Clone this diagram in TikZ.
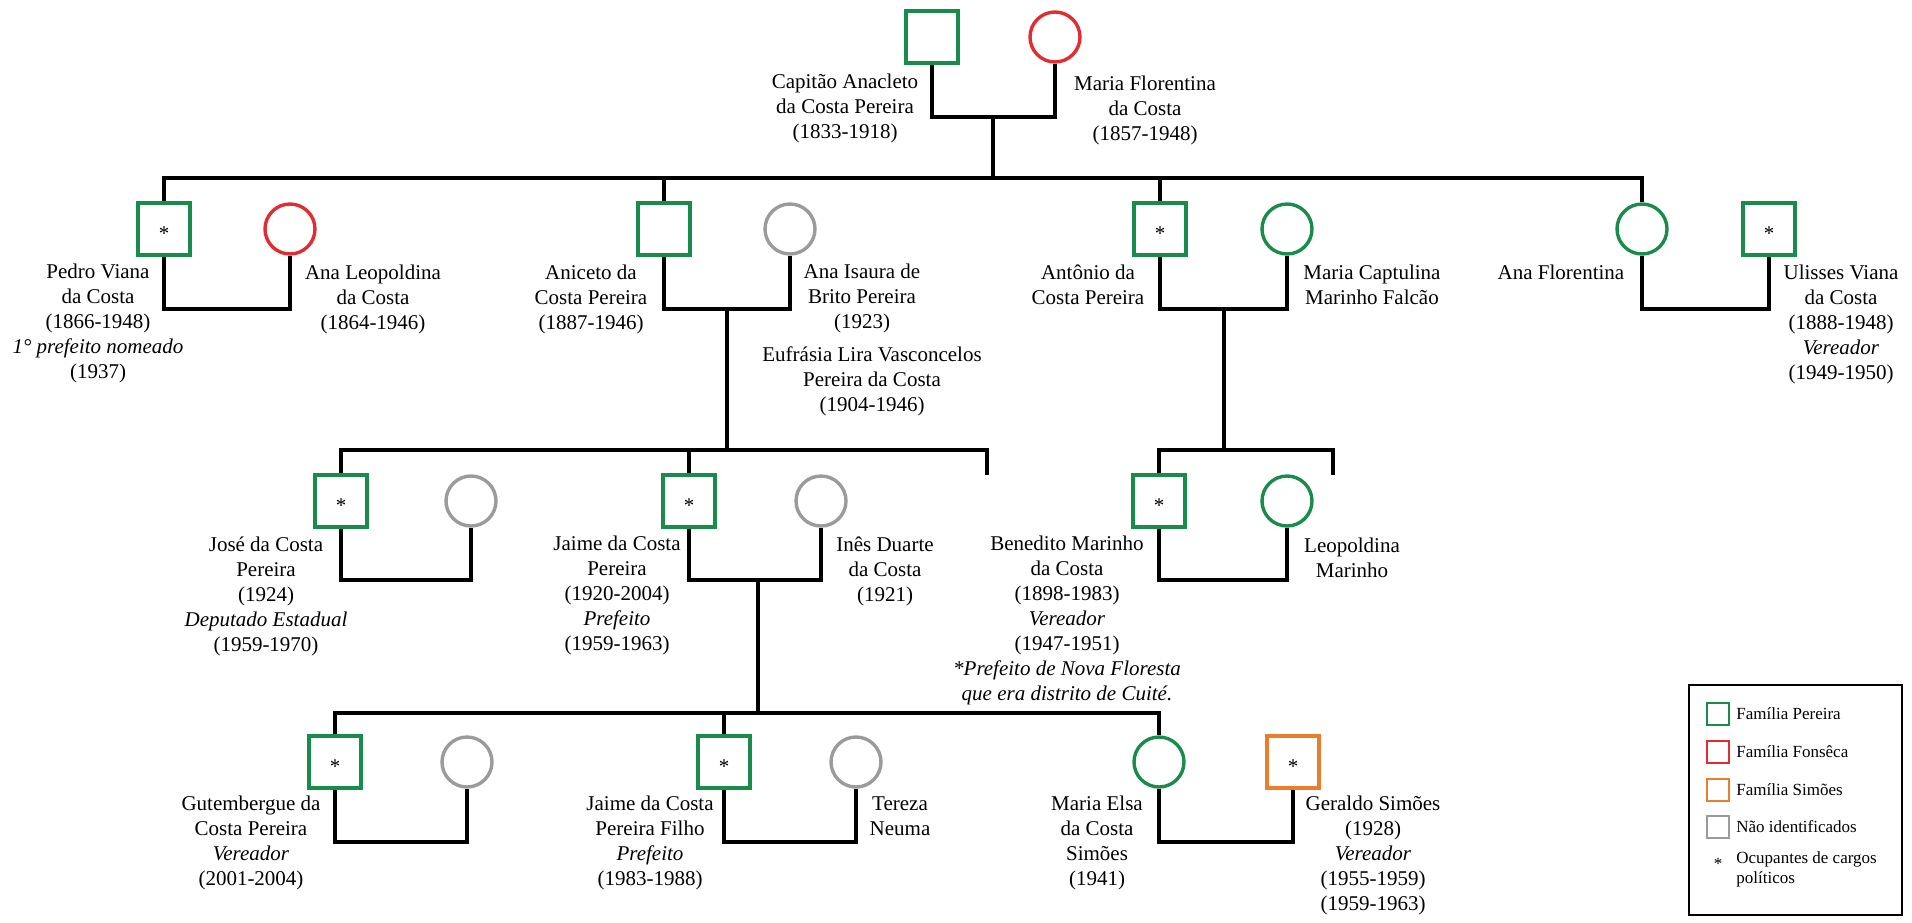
\documentclass[tikz,border=0pt]{standalone}
\usepackage{fontspec}
\setmainfont{Liberation Serif}
\definecolor{pgreen}{RGB}{25,140,75}
\definecolor{pred}{RGB}{225,45,50}
\definecolor{porange}{RGB}{235,125,45}
\definecolor{pgrey}{RGB}{155,155,155}
\newcommand\lblfont{\fontsize{10.5pt}{12.5pt}\selectfont}
\newcommand\legfont{\fontsize{8.5pt}{10pt}\selectfont}
\begin{document}
\begin{tikzpicture}[x=0.5pt,y=-0.5pt,
  sq/.style={draw=#1,line width=1.9pt,fill=white,minimum size=26pt,inner sep=0pt,rectangle},
  ci/.style={draw=#1,line width=1.7pt,fill=white,minimum size=25pt,inner sep=0pt,circle},
  pol/.style={label={[font=\lblfont,inner sep=0pt,yshift=-2.5pt]center:*}},
  lbl/.style={align=center,anchor=north,inner sep=0pt,font=\lblfont},
  ln/.style={line width=1.6pt,black},
  lsq/.style={draw=#1,line width=1pt,fill=white,minimum size=11pt,inner sep=0pt,rectangle},
  ltxt/.style={anchor=west,inner sep=0pt,font=\legfont,align=left}
]
\fill[white] (0,0) rectangle (1912,922);
\useasboundingbox (0,0) rectangle (1912,922);

% ---------- generation 1
\node[sq=pgreen] (cap) at (932,37) {};
\node[ci=pred] (mf) at (1055,37) {};
% ---------- generation 2
\node[sq=pgreen,pol] (pedro) at (164,229) {};
\node[ci=pred] (analeop) at (290,229) {};
\node[sq=pgreen] (aniceto) at (664,229) {};
\node[ci=pgrey] (isaura) at (790,229) {};
\node[sq=pgreen,pol] (antonio) at (1160,229) {};
\node[ci=pgreen] (captulina) at (1287,229) {};
\node[ci=pgreen] (anaflor) at (1642,229) {};
\node[sq=pgreen,pol] (ulisses) at (1769,229) {};
% ---------- generation 3
\node[sq=pgreen,pol] (jose) at (341,501) {};
\node[ci=pgrey] (josew) at (471,501) {};
\node[sq=pgreen,pol] (jaime) at (689,501) {};
\node[ci=pgrey] (ines) at (821,501) {};
\node[sq=pgreen,pol] (benedito) at (1159,501) {};
\node[ci=pgreen] (leopoldina) at (1287,501) {};
% ---------- generation 4
\node[sq=pgreen,pol] (gut) at (335,762) {};
\node[ci=pgrey] (gutw) at (467,762) {};
\node[sq=pgreen,pol] (jf) at (724,762) {};
\node[ci=pgrey] (tereza) at (856,762) {};
\node[ci=pgreen] (elsa) at (1159,762) {};
\node[sq=porange,pol] (geraldo) at (1293,762) {};

% ---------- junction coordinates
\coordinate (j1) at (993,117);
\coordinate (b2) at (993,178);
\coordinate (j2p) at (227,309);
\coordinate (j2a) at (727,309);
\coordinate (j2c) at (1224,309);
\coordinate (j2u) at (1705,309);
\coordinate (b3a) at (727,450);
\coordinate (b3b) at (1224,450);
\coordinate (e3a) at (987,475);
\coordinate (e3b) at (1333,475);
\coordinate (j3j) at (406,580);
\coordinate (j3a) at (758,580);
\coordinate (j3b) at (1223,580);
\coordinate (b4) at (758,713);
\coordinate (j4g) at (401,842);
\coordinate (j4j) at (790,842);
\coordinate (j4e) at (1226,842);

% ---------- connectors
\draw[ln] (cap.south) |- (j1) -| (mf.south);
\draw[ln] (j1) -- (b2);
\draw[ln] (pedro.north) |- (b2) -| (anaflor.north);
\draw[ln] (aniceto.north) -- (aniceto.north |- b2);
\draw[ln] (antonio.north) -- (antonio.north |- b2);

\draw[ln] (pedro.south) |- (j2p) -| (analeop.south);
\draw[ln] (aniceto.south) |- (j2a) -| (isaura.south);
\draw[ln] (antonio.south) |- (j2c) -| (captulina.south);
\draw[ln] (anaflor.south) |- (j2u) -| (ulisses.south);
\draw[ln] (j2a) -- (b3a);
\draw[ln] (j2c) -- (b3b);

\draw[ln] (jose.north) |- (e3a |- b3a) -- (e3a);
\draw[ln] (jaime.north) -- (jaime.north |- b3a);
\draw[ln] (benedito.north) |- (e3b |- b3b) -- (e3b);

\draw[ln] (jose.south) |- (j3j) -| (josew.south);
\draw[ln] (jaime.south) |- (j3a) -| (ines.south);
\draw[ln] (benedito.south) |- (j3b) -| (leopoldina.south);
\draw[ln] (j3a) -- (b4);

\draw[ln] (gut.north) |- (b4) -| (elsa.north);
\draw[ln] (jf.north) -- (jf.north |- b4);

\draw[ln] (gut.south) |- (j4g) -| (gutw.south);
\draw[ln] (jf.south) |- (j4j) -| (tereza.south);
\draw[ln] (elsa.south) |- (j4e) -| (geraldo.south);

% ---------- labels
\node[lbl] (tcap) at (845,74) {Capitão Anacleto\\da Costa Pereira\\(1833-1918)};
\node[lbl] (tmf) at (1145,76) {Maria Florentina\\da Costa\\(1857-1948)};
\node[lbl] (tpedro) at (98,264) {Pedro Viana\\da Costa\\(1866-1948)\\\textit{1° prefeito nomeado}\\(1937)};
\node[lbl] (tanaleop) at (373,265) {Ana Leopoldina\\da Costa\\(1864-1946)};
\node[lbl] (taniceto) at (591,265) {Aniceto da\\Costa Pereira\\(1887-1946)};
\node[lbl] (tisaura) at (862,264) {Ana Isaura de\\Brito Pereira\\(1923)};
\node[lbl] (teufrasia) at (872,346) {Eufrásia Lira Vasconcelos\\Pereira da Costa\\(1904-1946)};
\node[lbl] (tantonio) at (1088,264) {Antônio da\\Costa Pereira};
\node[lbl] (tcapt) at (1372,265) {Maria Captulina\\Marinho Falcão};
\node[lbl] (tanaflor) at (1561,265) {Ana Florentina};
\node[lbl] (tulisses) at (1841,265) {Ulisses Viana\\da Costa\\(1888-1948)\\\textit{Vereador}\\(1949-1950)};
\node[lbl] (tjose) at (266,536) {José da Costa\\Pereira\\(1924)\\\textit{Deputado Estadual}\\(1959-1970)};
\node[lbl] (tjaime) at (617,536) {Jaime da Costa\\Pereira\\(1920-2004)\\\textit{Prefeito}\\(1959-1963)};
\node[lbl] (tines) at (885,536) {Inês Duarte\\da Costa\\(1921)};
\node[lbl] (tbened) at (1067,536) {Benedito Marinho\\da Costa\\(1898-1983)\\\textit{Vereador}\\(1947-1951)\\\textit{*Prefeito de Nova Floresta}\\\textit{que era distrito de Cuité.}};
\node[lbl] (tleop) at (1352,538) {Leopoldina\\Marinho};
\node[lbl] (tgut) at (251,796) {Gutembergue da\\Costa Pereira\\\textit{Vereador}\\(2001-2004)};
\node[lbl] (tjf) at (650,796) {Jaime da Costa\\Pereira Filho\\\textit{Prefeito}\\(1983-1988)};
\node[lbl] (ttereza) at (900,796) {Tereza\\Neuma};
\node[lbl] (telsa) at (1097,796) {Maria Elsa\\da Costa\\Simões\\(1941)};
\node[lbl] (tgeraldo) at (1373,796) {Geraldo Simões\\(1928)\\\textit{Vereador}\\(1955-1959)\\(1959-1963)};

% ---------- legend
\node[draw,line width=1.1pt,minimum width=106.5pt,minimum height=115pt,inner sep=0pt] (legend) at (1795.5,800) {};
\node[lsq=pgreen] (lg1) at (1718,714) {};
\node[lsq=pred] (lg2) at (1718,752) {};
\node[lsq=porange] (lg3) at (1718,790) {};
\node[lsq=pgrey] (lg4) at (1718,827) {};
\node[font=\legfont,inner sep=0pt] (lg5) at (1718,864) {*};
\node[ltxt] (lt1) at (1736,714) {Família Pereira};
\node[ltxt] (lt2) at (1736,752) {Família Fonsêca};
\node[ltxt] (lt3) at (1736,790) {Família Simões};
\node[ltxt] (lt4) at (1736,827) {Não identificados};
\node[ltxt,anchor=north west] (lt5) at (1736,851) {Ocupantes de cargos\\políticos};
\end{tikzpicture}
\end{document}
